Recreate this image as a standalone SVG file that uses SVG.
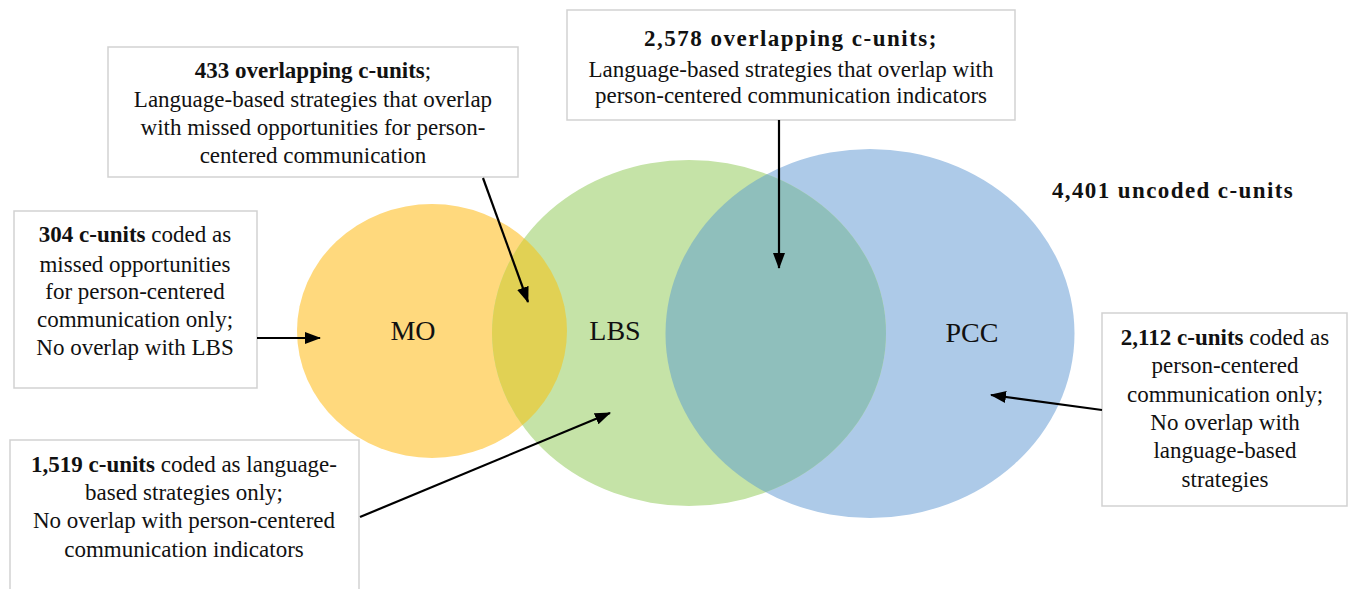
<svg xmlns="http://www.w3.org/2000/svg" width="1352" height="589" viewBox="0 0 1352 589" font-family="'Liberation Serif', 'DejaVu Serif', serif">
<style>
.box{fill:#fff;stroke:#d2d2d2;stroke-width:1.5}
text{font-family:'Liberation Serif','DejaVu Serif',serif}
.t{font-size:23px;fill:#111;text-anchor:middle}
.b{font-weight:bold}
.lbl{font-size:28px;fill:#111;text-anchor:middle}
.conn line{stroke:#000;stroke-width:2.2;marker-end:url(#ah)}
</style>
<defs>
<marker id="ah" markerWidth="16" markerHeight="12" refX="15" refY="6" orient="auto" markerUnits="userSpaceOnUse">
<path d="M0,0 L16,6 L0,12 Z" fill="#000"/>
</marker>
<clipPath id="cMO"><ellipse cx="432" cy="331" rx="135" ry="127"/></clipPath>
<clipPath id="cPCC"><ellipse cx="870" cy="333.5" rx="204.5" ry="184.5"/></clipPath>
</defs>
<rect width="1352" height="589" fill="#fff"/>
<g id="circles">
<ellipse id="MO" cx="432" cy="331" rx="135" ry="127" fill="#FFD97D"/>
<ellipse id="PCC" cx="870" cy="333.5" rx="204.5" ry="184.5" fill="#ADCAE8"/>
<ellipse id="LBS" cx="689" cy="333" rx="197" ry="173" fill="#C5E3A7"/>
<ellipse cx="689" cy="333" rx="197" ry="173" fill="#E1D154" clip-path="url(#cMO)"/>
<ellipse cx="689" cy="333" rx="197" ry="173" fill="#8FBFBC" clip-path="url(#cPCC)"/>
<text class="lbl" x="413" y="340" font-size="29">MO</text>
<text class="lbl" x="615" y="340">LBS</text>
<text class="lbl" x="972" y="342">PCC</text>
</g>
<g id="box433">
<rect class="box" x="108" y="47" width="410" height="130"/>
<text class="t" x="313" y="78" font-size="22.5"><tspan class="b">433 overlapping c-units</tspan>;</text>
<text class="t" x="313" y="107" font-size="22.5">Language-based strategies that overlap</text>
<text class="t" x="313" y="135" font-size="22.5">with missed opportunities for person-</text>
<text class="t" x="313" y="163" font-size="22.5">centered communication</text>
</g>
<g id="box2578">
<rect class="box" x="567" y="10" width="448" height="110"/>
<text class="t b" x="791" y="46" font-size="28" letter-spacing="1.5">2,578 overlapping c-units;</text>
<text class="t" x="791" y="77">Language-based strategies that overlap with</text>
<text class="t" x="791" y="103">person-centered communication indicators</text>
</g>
<g id="box304">
<rect class="box" x="14" y="211" width="243" height="177"/>
<text class="t" x="135" y="242"><tspan class="b">304 c-units</tspan> coded as</text>
<text class="t" x="135" y="272">missed opportunities</text>
<text class="t" x="135" y="299">for person-centered</text>
<text class="t" x="135" y="327">communication only;</text>
<text class="t" x="135" y="355">No overlap with LBS</text>
</g>
<g id="box1519">
<rect class="box" x="10" y="440" width="349" height="170"/>
<text class="t" x="184" y="472"><tspan class="b">1,519 c-units</tspan> coded as language-</text>
<text class="t" x="184" y="500">based strategies only;</text>
<text class="t" x="184" y="528">No overlap with person-centered</text>
<text class="t" x="184" y="557">communication indicators</text>
</g>
<g id="box2112">
<rect class="box" x="1102" y="313" width="245" height="193"/>
<text class="t" x="1225" y="345"><tspan class="b">2,112 c-units</tspan> coded as</text>
<text class="t" x="1225" y="373">person-centered</text>
<text class="t" x="1225" y="402">communication only;</text>
<text class="t" x="1225" y="430">No overlap with</text>
<text class="t" x="1225" y="458">language-based</text>
<text class="t" x="1225" y="487">strategies</text>
</g>
<g id="uncoded">
<text class="t b" x="1173" y="198" font-size="29" letter-spacing="1.4">4,401 uncoded c-units</text>
</g>
<g id="connectors" class="conn">
<line x1="257" y1="338" x2="320" y2="338"/>
<line x1="483" y1="178" x2="528" y2="302"/>
<line x1="779" y1="120" x2="779" y2="268"/>
<line x1="360" y1="517" x2="610" y2="413"/>
<line x1="1102" y1="410" x2="991" y2="395"/>
</g>
</svg>
